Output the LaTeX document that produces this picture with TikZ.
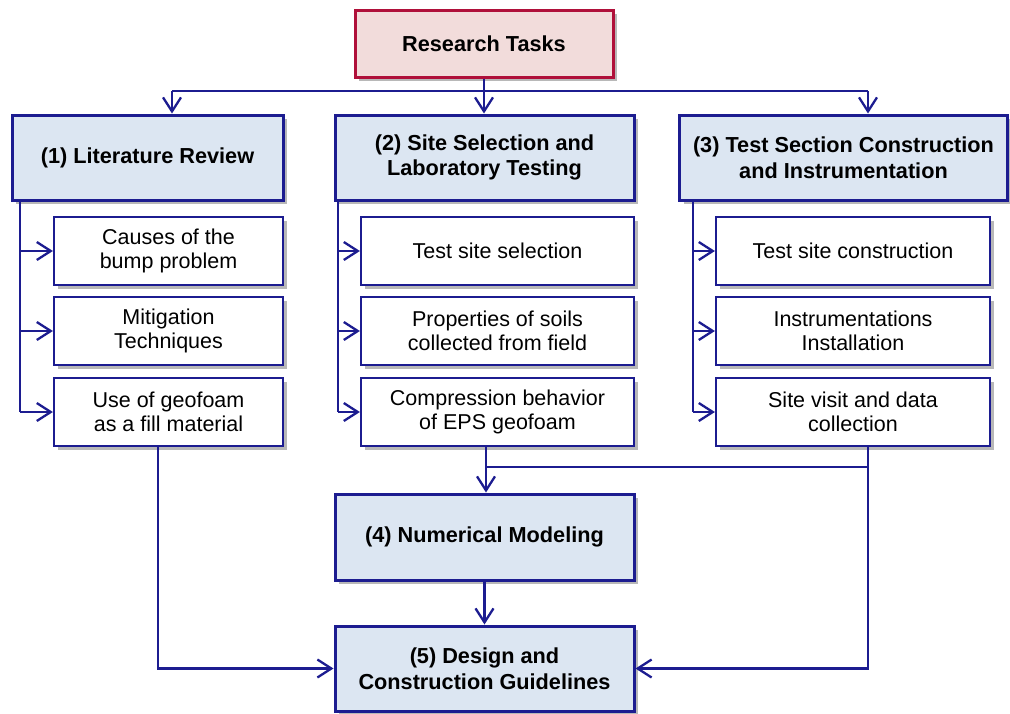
\documentclass[tikz,border=0pt]{standalone}
\usepackage{fontspec}
\setmainfont{Liberation Sans}
\usetikzlibrary{arrows.meta,shadows,calc}
\definecolor{navy}{HTML}{1C1C90}
\definecolor{crim}{HTML}{B0103A}
\definecolor{pinkf}{HTML}{F2DCDB}
\definecolor{bluef}{HTML}{DCE6F2}
\tikzset{
  shad/.style={drop shadow={shadow xshift=4pt,shadow yshift=-4pt,fill=black,opacity=0.28}},
  mainbox/.style={draw=navy,line width=3pt,fill=bluef,shad,align=center,
    font=\fontsize{21.7}{25.5}\selectfont\bfseries,inner sep=2pt},
  subbox/.style={draw=navy,line width=2.2pt,fill=white,shad,align=center,
    font=\fontsize{21.5}{24.5}\selectfont,inner sep=2pt},
  topbox/.style={draw=crim,line width=3pt,fill=pinkf,shad,align=center,
    font=\fontsize{21.7}{25.5}\selectfont\bfseries,inner sep=2pt},
  conn/.style={draw=navy,line width=2.3pt},
  arr/.style={conn,-{Straight Barb[length=14pt,width=18pt,line width=2.3pt]}}
}
\begin{document}
\begin{tikzpicture}[x=1pt,y=-1pt]
\useasboundingbox (0,0) rectangle (1010,713);
% top
\node[topbox,minimum width=258pt,minimum height=67pt] (R) at (484,43.5) {Research Tasks};
% main
\node[mainbox,minimum width=271pt,minimum height=85pt] (L1) at (147.5,157.5) {(1) Literature Review};
\node[mainbox,minimum width=299pt,minimum height=85pt] (L2) at (484.5,157.5) {(2) Site Selection and\\Laboratory Testing};
\node[mainbox,minimum width=328pt,minimum height=85pt] (L3) at (843.5,157.5) {(3) Test Section Construction\\and Instrumentation};
% sub boxes col1
\node[subbox,minimum width=229pt,minimum height=68pt] (S11) at (168.5,251) {Causes of the\\bump problem};
\node[subbox,minimum width=229pt,minimum height=68pt] (S12) at (168.5,331) {Mitigation\\Techniques};
\node[subbox,minimum width=229pt,minimum height=68pt] (S13) at (168.5,412) {Use of geofoam\\as a fill material};
% col2
\node[subbox,minimum width=273pt,minimum height=68pt] (S21) at (497.5,251) {Test site selection};
\node[subbox,minimum width=273pt,minimum height=68pt] (S22) at (497.5,331) {Properties of soils\\collected from field};
\node[subbox,minimum width=273pt,minimum height=68pt] (S23) at (497.5,412) {Compression behavior\\of EPS geofoam};
% col3
\node[subbox,minimum width=274pt,minimum height=68pt] (S31) at (853,251) {Test site construction};
\node[subbox,minimum width=274pt,minimum height=68pt] (S32) at (853,331) {Instrumentations\\Installation};
\node[subbox,minimum width=274pt,minimum height=68pt] (S33) at (853,412) {Site visit and data\\collection};
% bottom
\node[mainbox,minimum width=299pt,minimum height=86pt] (N4) at (484.5,537) {(4) Numerical Modeling};
\node[mainbox,minimum width=299pt,minimum height=85pt] (N5) at (484.5,668.5) {(5) Design and\\Construction Guidelines};
% bus coordinates
\coordinate (bus) at (0,91);
\coordinate (a1) at ($(L1.north)+(24.5,0)$);
\coordinate (a3) at ($(L3.north)+(24.5,0)$);
\draw[conn] (a1 |- bus) -- (a3 |- bus);
\draw[arr] (R.south) -- (R.south |- L2.north);
\draw[arr] (a1 |- bus) -- (a1);
\draw[arr] (a3 |- bus) -- (a3);
% trunks
\coordinate (t1) at (20,0);
\coordinate (t2) at (338,0);
\coordinate (t3) at (693,0);
\draw[conn] (t1 |- L1.south) -- (t1 |- S13.west);
\draw[arr] (t1 |- S11.west) -- (S11.west);
\draw[arr] (t1 |- S12.west) -- (S12.west);
\draw[arr] (t1 |- S13.west) -- (S13.west);
\draw[conn] (t2 |- L2.south) -- (t2 |- S23.west);
\draw[arr] (t2 |- S21.west) -- (S21.west);
\draw[arr] (t2 |- S22.west) -- (S22.west);
\draw[arr] (t2 |- S23.west) -- (S23.west);
\draw[conn] (t3 |- L3.south) -- (t3 |- S33.west);
\draw[arr] (t3 |- S31.west) -- (S31.west);
\draw[arr] (t3 |- S32.west) -- (S32.west);
\draw[arr] (t3 |- S33.west) -- (S33.west);
% lower connectors
\coordinate (b1) at ($(S13.south)+(-10.5,0)$);
\coordinate (b2) at ($(S23.south)+(-11.5,0)$);
\coordinate (b3) at ($(S33.south)+(15,0)$);
\coordinate (hb) at (0,467);
\draw[arr] (b1) |- (N5.west);
\draw[arr] (b3) |- (N5.east);
\draw[conn] (b2 |- hb) -- (b3 |- hb);
\draw[arr] (b2) -- (b2 |- N4.north);
\draw[arr] (N4.south) -- (N5.north);
\end{tikzpicture}
\end{document}
